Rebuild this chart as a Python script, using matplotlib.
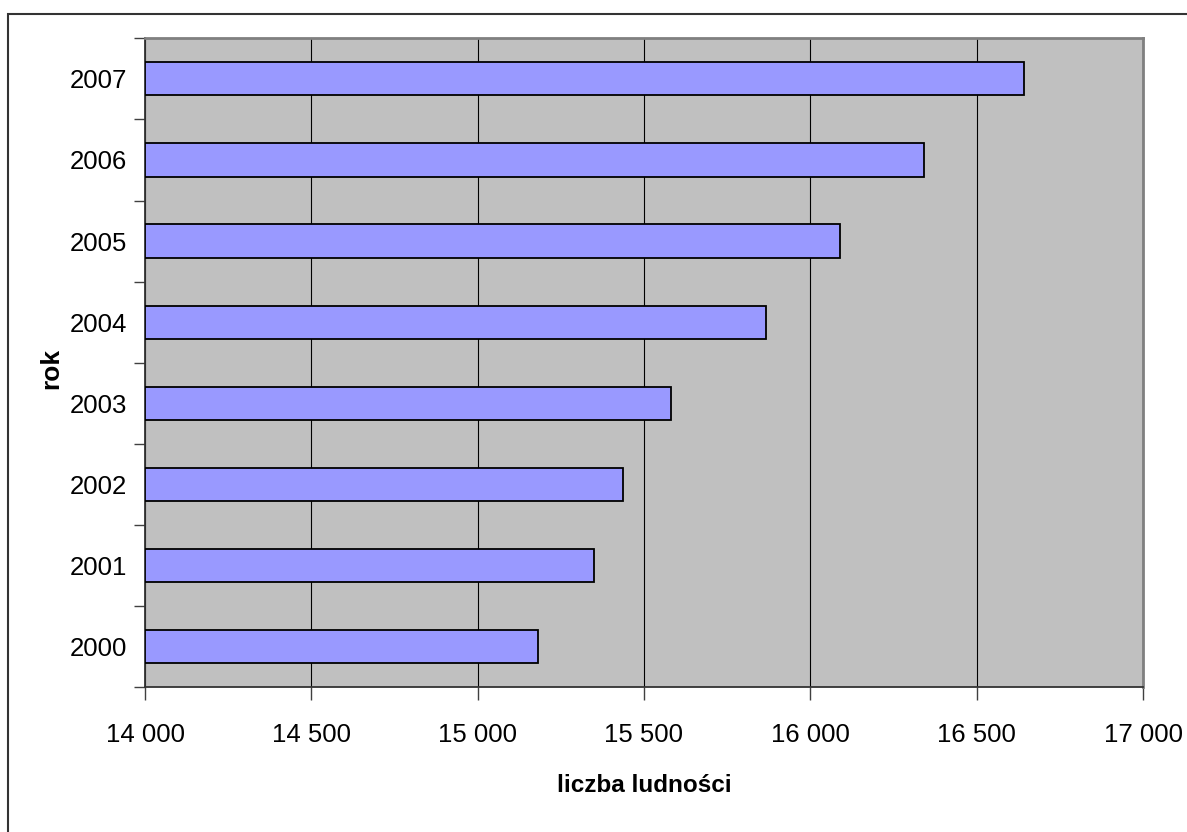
import matplotlib
matplotlib.use('Agg')
import matplotlib.pyplot as plt
from matplotlib.patches import Rectangle
from matplotlib.ticker import FixedLocator, FuncFormatter

# data
years = ['2000', '2001', '2002', '2003', '2004', '2005', '2006', '2007']
population = [15182, 15349, 15437, 15580, 15867, 16089, 16342, 16641]
x_ticks = [14000, 14500, 15000, 15500, 16000, 16500, 17000]

plt.rcParams['font.family'] = ['Liberation Sans', 'DejaVu Sans']

fig = plt.figure(figsize=(11.87, 8.32), dpi=100)
ax = fig.add_axes([145 / 1187, 1 - 687.3 / 832, (1143 - 145) / 1187, (687.3 - 38.3) / 832])

ypos = list(range(len(years)))
ax.barh(ypos, [p - 14000 for p in population], left=14000, height=0.41,
        color='#9999FF', edgecolor='black', linewidth=1.3, zorder=3)

ax.set_facecolor('#C0C0C0')
ax.set_xlim(14000, 17000)
ax.set_ylim(-0.5, len(years) - 0.5)

# x axis
ax.xaxis.set_major_locator(FixedLocator(x_ticks))
ax.xaxis.set_major_formatter(FuncFormatter(lambda v, p: f'{int(v):,}'.replace(',', ' ')))
ax.tick_params(axis='x', direction='out', length=9, width=1, color='#404040',
               labelsize=18.5, pad=16.5)
ax.grid(axis='x', color='black', linewidth=0.8, zorder=1)

# y axis: labels at centers, ticks at category boundaries
ax.set_yticks(ypos)
ax.set_yticklabels(years)
ax.set_yticks([i - 0.5 for i in range(len(years) + 1)], minor=True)
ax.tick_params(axis='y', which='major', length=0, labelsize=18.5, pad=13)
ax.tick_params(axis='y', which='minor', direction='out', length=8, width=1, color='#404040')

for side in ['left', 'bottom']:
    ax.spines[side].set_color('#333333')
    ax.spines[side].set_linewidth(1.3)
for side in ['top', 'right']:
    ax.spines[side].set_color('#808080')
    ax.spines[side].set_linewidth(2)

ax.set_xlabel('liczba ludności', fontsize=17.5, fontweight='bold', labelpad=20)
ax.set_ylabel('rok', fontsize=19, fontweight='bold')
ax.yaxis.set_label_coords(-0.082, 0.492)

# chart area border
fig.patches.append(Rectangle((8 / 1187, -0.1), 1.2, 1 - 14 / 832 + 0.1,
                             transform=fig.transFigure, fill=False,
                             edgecolor='#333333', linewidth=1.5))

fig.savefig('out.png', dpi=100)
